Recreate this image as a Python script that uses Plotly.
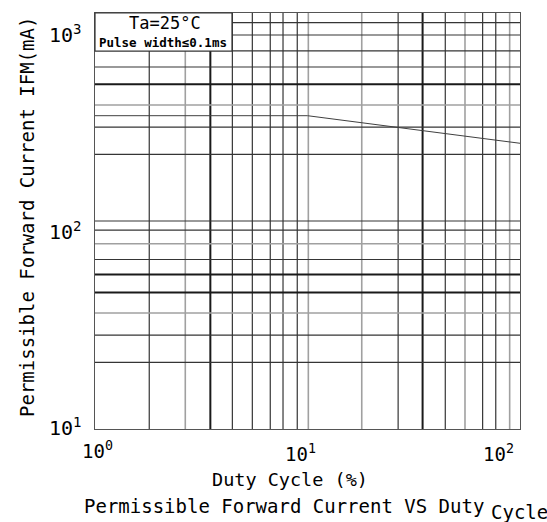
import plotly.graph_objects as go

# ---- data ----
duty_cycle = [1, 10, 100]                 # %
ifm_ma = [320.8, 320.8, 236.4]            # mA

# grid lines as drawn on the reference
x_grid_thin = [1.80, 4.43, 5.50, 6.68, 7.67, 8.95, 26.7, 44.5, 66.7, 76.9]
x_grid_gray = [2.66, 10.09, 18.0, 55.1, 89.4]
x_grid_thick = [3.49, 34.8]
y_grid_thin = [898, 784, 657, 550, 283, 209, 100, 90.3, 65.3, 28.25, 20.9]
y_grid_gray = [361, 77.8, 36.1]
y_grid_thick = [454, 55.3, 45.3]

x_tick_labels = ["10<sup>0</sup>", "10<sup>1</sup>", "10<sup>2</sup>"]
y_tick_labels = ["10<sup>1</sup>", "10<sup>2</sup>", "10<sup>3</sup>"]

x_title = "Duty Cycle (%)"
y_title = "Permissible Forward Current IFM(mA)"
chart_title = "Permissible Forward Current VS Duty"
chart_title_tail = "Cycle"
note1 = "Ta=25°C"
note2 = "Pulse width≤0.1ms"

FONT = "DejaVu Sans Mono"
DARK = "#353535"
GRAY = "#a0a0a0"

# plot area in pixels
L, R, T, B = 95, 520, 13, 429
W, H = 547, 522


def px(xp):
    return (xp - L) / (R - L)


def py(yp):
    return (B - yp) / (B - T)


fig = go.Figure()
fig.add_trace(go.Scatter(x=duty_cycle, y=ifm_ma, mode="lines",
                         line=dict(color="#404040", width=1), hoverinfo="skip",
                         showlegend=False))

shapes = []


def vline(v, color, width):
    shapes.append(dict(type="line", xref="x", yref="paper", x0=v, x1=v, y0=0, y1=1,
                       line=dict(color=color, width=width), layer="below"))


def hline(v, color, width):
    shapes.append(dict(type="line", xref="paper", yref="y", y0=v, y1=v, x0=0, x1=1,
                       line=dict(color=color, width=width), layer="below"))


for v in x_grid_thin:
    vline(v, DARK, 1.2)
for v in x_grid_gray:
    vline(v, GRAY, 1.6)
for v in x_grid_thick:
    vline(v, "#1a1a1a", 2)
for v in y_grid_thin:
    hline(v, DARK, 1.2)
for v in y_grid_gray:
    hline(v, GRAY, 1.6)
for v in y_grid_thick:
    hline(v, "#1a1a1a", 2)

# condition box
shapes.append(dict(type="rect", xref="paper", yref="paper", x0=0, x1=px(232), y0=py(51), y1=1,
                   fillcolor="white", line=dict(color=DARK, width=1.2), layer="above"))

ann = []
ann.append(dict(text=note1, xref="paper", yref="paper", x=px(165), y=py(23.5), showarrow=False,
                font=dict(family=FONT, size=17, color="black"), xanchor="center", yanchor="middle"))
ann.append(dict(text="<b>" + note2 + "</b>", xref="paper", yref="paper", x=px(163), y=py(43),
                showarrow=False, font=dict(family=FONT, size=12.5, color="black"),
                xanchor="center", yanchor="middle"))
for lab, yc in zip(y_tick_labels, [427, 231, 34]):
    ann.append(dict(text=lab, xref="paper", yref="paper", x=px(84), y=py(yc), showarrow=False,
                    font=dict(family=FONT, size=20, color="black"), xanchor="right", yanchor="middle"))
for lab, xl, yc in zip(x_tick_labels, [80, 283, 481], [450, 453, 453]):
    ann.append(dict(text=lab, xref="paper", yref="paper", x=px(xl), y=py(yc), showarrow=False,
                    font=dict(family=FONT, size=19, color="black"), xanchor="left", yanchor="middle"))
ann.append(dict(text=x_title, xref="paper", yref="paper", x=px(290), y=py(480), showarrow=False,
                font=dict(family=FONT, size=18.5, color="black"), xanchor="center", yanchor="middle"))
ann.append(dict(text=y_title, xref="paper", yref="paper", x=px(27), y=py(217), showarrow=False,
                textangle=-90, font=dict(family=FONT, size=19, color="black"),
                xanchor="center", yanchor="middle"))
ann.append(dict(text=chart_title, xref="paper", yref="paper", x=px(486), y=py(506), showarrow=False,
                font=dict(family=FONT, size=19, color="black"), xanchor="right", yanchor="middle"))
ann.append(dict(text=chart_title_tail, xref="paper", yref="paper", x=px(489), y=py(512), showarrow=False,
                font=dict(family=FONT, size=19, color="black"), xanchor="left", yanchor="middle"))

fig.update_layout(
    width=W, height=H,
    margin=dict(l=L, r=W - R, t=T, b=H - B),
    paper_bgcolor="white", plot_bgcolor="white",
    shapes=shapes, annotations=ann,
    xaxis=dict(type="log", range=[0, 2], showgrid=False, zeroline=False, showticklabels=False,
               ticks="", showline=True, mirror=True, linecolor="#555555", linewidth=1.2),
    yaxis=dict(type="log", range=[1, 3], showgrid=False, zeroline=False, showticklabels=False,
               ticks="", showline=True, mirror=True, linecolor="#555555", linewidth=1.2),
    font=dict(family=FONT),
)

fig.write_html("out.html", config={"displayModeBar": False},
               post_script="document.body.style.margin='0';document.body.style.padding='0';")
